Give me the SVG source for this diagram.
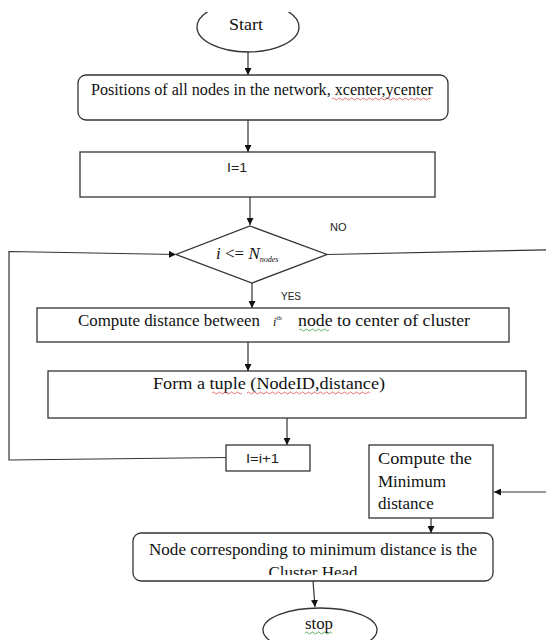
<svg xmlns="http://www.w3.org/2000/svg" width="546" height="640" viewBox="0 0 546 640">
<style>
.shape{fill:#fff;stroke:#333;stroke-width:1.3}
.ln{fill:none;stroke:#333;stroke-width:1.2}
.serif{font-family:"Liberation Serif","Times New Roman",serif;fill:#111}
.sans{font-family:"Liberation Sans",Arial,sans-serif;fill:#222}
.sq-red{fill:none;stroke:#e05050;stroke-width:0.8}
.sq-green{fill:none;stroke:#3a9a3a;stroke-width:0.8}
</style>
<defs>
<marker id="ah" viewBox="0 0 10 10" refX="10" refY="5" markerWidth="7" markerHeight="7" orient="auto" markerUnits="userSpaceOnUse">
<path d="M0,0 L10,5 L0,10 z" fill="#111"/>
</marker>
<clipPath id="clipTop"><rect x="0" y="12" width="546" height="628"/></clipPath>
<clipPath id="clipN8"><rect x="133" y="533" width="360" height="42"/></clipPath>
</defs>
<rect width="546" height="640" fill="#fff"/>

<g id="connectors">
<line class="ln" x1="248" y1="52" x2="248" y2="75" marker-end="url(#ah)"/>
<line class="ln" x1="248" y1="120" x2="248" y2="152" marker-end="url(#ah)"/>
<line class="ln" x1="250" y1="197" x2="250" y2="225" marker-end="url(#ah)"/>
<line class="ln" x1="252" y1="283" x2="252" y2="308" marker-end="url(#ah)"/>
<line class="ln" x1="248" y1="342" x2="248" y2="371" marker-end="url(#ah)"/>
<line class="ln" x1="287" y1="418" x2="287" y2="445" marker-end="url(#ah)"/>
<polyline class="ln" points="226,457.5 9,460 9,251.5 176,254.5" marker-end="url(#ah)"/>
<line class="ln" x1="327" y1="254.5" x2="546" y2="249.8"/>
<line class="ln" x1="546" y1="492" x2="494" y2="492" marker-end="url(#ah)"/>
<line class="ln" x1="431" y1="518" x2="431" y2="533" marker-end="url(#ah)"/>
<line class="ln" x1="313" y1="581" x2="315" y2="607" marker-end="url(#ah)"/>
<text class="sans" x="330" y="231" font-size="11">NO</text>
<text class="sans" x="281" y="300" font-size="10">YES</text>
</g>

<g id="start">
<ellipse class="shape" cx="248" cy="27" rx="51" ry="25" clip-path="url(#clipTop)"/>
<text class="serif" x="229" y="30" font-size="17" textLength="34" lengthAdjust="spacingAndGlyphs">Start</text>
</g>

<g id="positions">
<rect class="shape" x="78" y="75" width="370" height="45" rx="8"/>
<text class="serif" x="91" y="95" font-size="16" textLength="342" lengthAdjust="spacingAndGlyphs">Positions of all nodes in the network, xcenter,ycenter</text>
<path class="sq-red" d="M332,99 q1.5,-2 3,0 t3,0 t3,0 t3,0 t3,0 t3,0 t3,0 t3,0 t3,0 t3,0 t3,0 t3,0 t3,0 t3,0 t3,0 t3,0 t3,0 t3,0 t3,0 t3,0 t3,0 t3,0 t3,0 t3,0 t3,0 t3,0 t3,0 t3,0 t3,0 t3,0 t3,0 t3,0 t3,0"/>
</g>

<g id="init">
<rect class="shape" x="80" y="152" width="355" height="45"/>
<text class="sans" x="227" y="172" font-size="13" textLength="20" lengthAdjust="spacingAndGlyphs">I=1</text>
</g>

<g id="decision">
<polygon class="shape" points="250,226 327,254.5 252,283 176,254.5"/>
<text class="serif" x="216" y="259" font-size="17"><tspan font-style="italic">i</tspan> &lt;= <tspan font-style="italic">N</tspan><tspan font-style="italic" font-size="8" dy="3">nodes</tspan></text>
</g>

<g id="compute-distance">
<rect class="shape" x="37" y="308" width="472" height="34"/>
<text class="serif" x="78" y="326" font-size="17" textLength="182" lengthAdjust="spacingAndGlyphs">Compute distance between</text>
<text class="serif" x="273" y="326"><tspan font-style="italic" font-size="12">i</tspan><tspan font-size="7" dy="-6">th</tspan></text>
<text class="serif" x="298" y="326" font-size="17" textLength="172" lengthAdjust="spacingAndGlyphs">node to center of cluster</text>
<path class="sq-green" d="M299,330 q1.5,-2 3,0 t3,0 t3,0 t3,0 t3,0 t3,0 t3,0 t3,0 t3,0 t3,0"/>
</g>

<g id="tuple">
<rect class="shape" x="48" y="371" width="478" height="47"/>
<text class="serif" x="153" y="389" font-size="17" textLength="232" lengthAdjust="spacingAndGlyphs">Form a tuple (NodeID,distance)</text>
<path class="sq-red" d="M212,393 q1.5,-2 3,0 t3,0 t3,0 t3,0 t3,0 t3,0 t3,0 t3,0 t3,0 t3,0"/>
<path class="sq-red" d="M247,393 q1.5,-2 3,0 t3,0 t3,0 t3,0 t3,0 t3,0 t3,0 t3,0 t3,0 t3,0 t3,0 t3,0 t3,0 t3,0 t3,0 t3,0 t3,0 t3,0 t3,0 t3,0 t3,0 t3,0 t3,0 t3,0 t3,0 t3,0 t3,0 t3,0 t3,0 t3,0 t3,0 t3,0 t3,0 t3,0 t3,0 t3,0 t3,0 t3,0 t3,0 t3,0 t3,0"/>
</g>

<g id="increment">
<rect class="shape" x="226" y="445" width="84" height="26"/>
<text class="sans" x="246" y="463" font-size="13" textLength="33" lengthAdjust="spacingAndGlyphs">I=i+1</text>
</g>

<g id="minimum">
<rect class="shape" x="369" y="445" width="124" height="73"/>
<text class="serif" x="378" y="464" font-size="17" textLength="94" lengthAdjust="spacingAndGlyphs">Compute the</text>
<text class="serif" x="378" y="487" font-size="17">Minimum</text>
<text class="serif" x="378" y="509" font-size="17">distance</text>
</g>

<g id="cluster-head">
<rect class="shape" x="133" y="533" width="360" height="48" rx="8"/>
<g clip-path="url(#clipN8)">
<text class="serif" x="149" y="555" font-size="17" textLength="328" lengthAdjust="spacingAndGlyphs">Node corresponding to minimum distance is the</text>
<text class="serif" x="313" y="578" font-size="17" text-anchor="middle">Cluster Head</text>
</g>
</g>

<g id="stop">
<ellipse class="shape" cx="320" cy="630" rx="57" ry="22"/>
<text class="serif" x="305" y="629" font-size="16" textLength="28" lengthAdjust="spacingAndGlyphs">stop</text>
<path class="sq-green" d="M305,633 q1.5,-2 3,0 t3,0 t3,0 t3,0 t3,0 t3,0 t3,0 t3,0 t3,0"/>
</g>
</svg>
